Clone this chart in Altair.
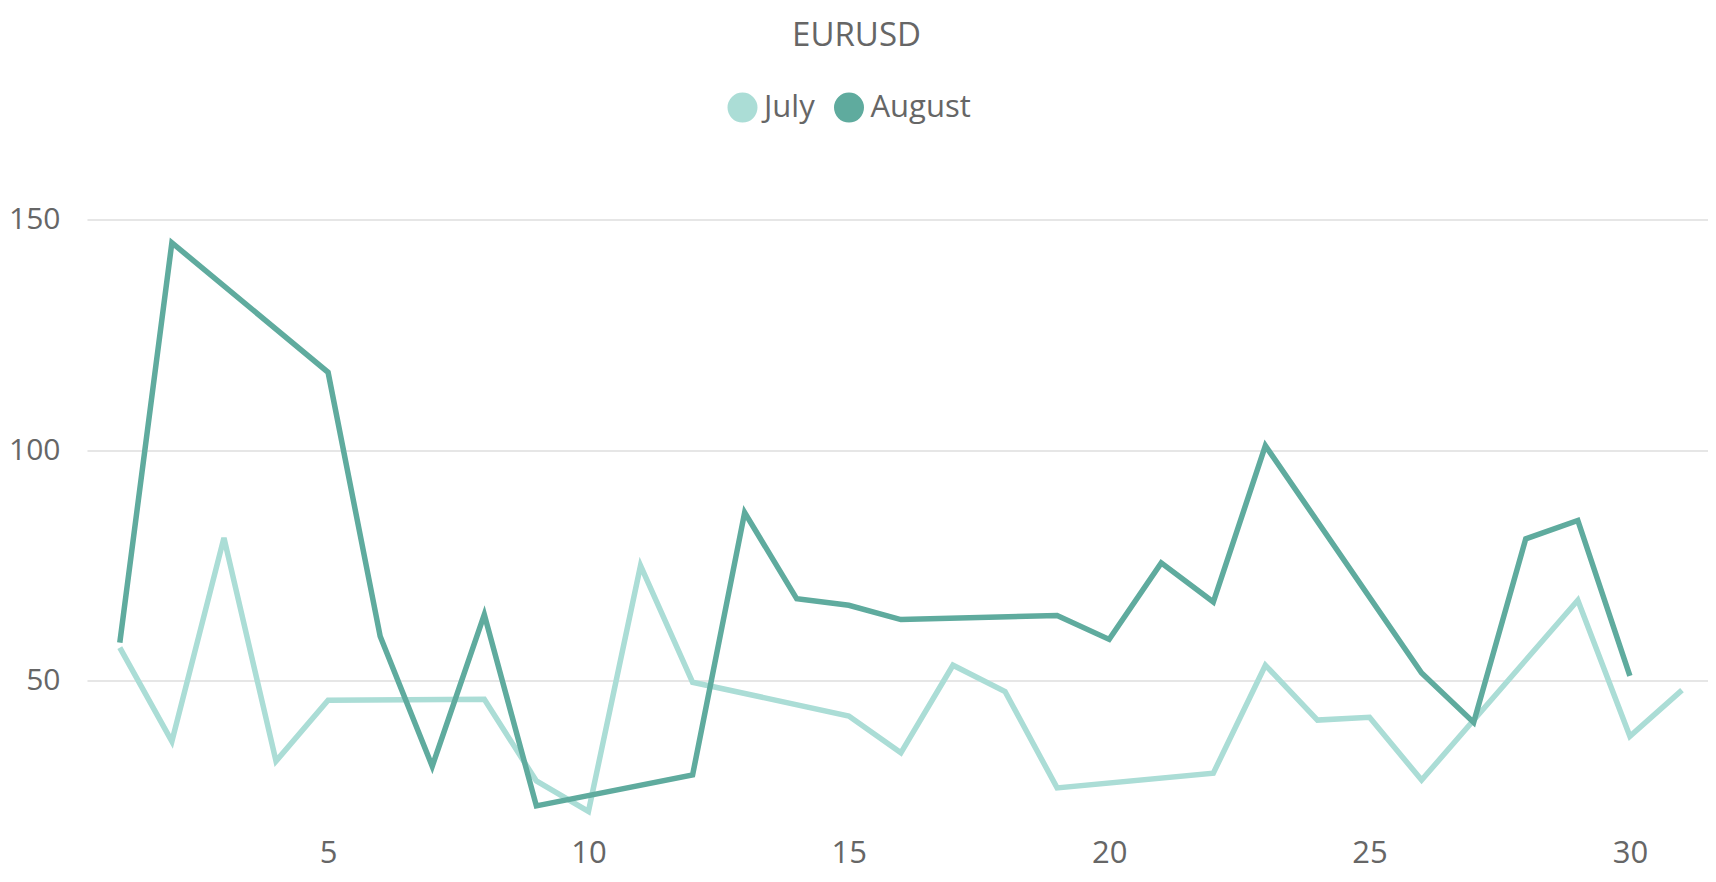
import altair as alt
import pandas as pd

# ---- data ----
july_days = [1, 2, 3, 4, 5, 8, 9, 10, 11, 12, 15, 16, 17, 18, 19, 22, 23, 24, 25, 26, 29, 30, 31]
july_vals = [57.2, 36.9, 81.0, 32.6, 45.8, 46.0, 28.3, 21.7, 75.0, 49.7, 42.4, 34.4, 53.4, 47.7,
             26.8, 30.0, 53.4, 41.5, 42.1, 28.5, 67.5, 38.0, 48.0]
aug_days = [1, 2, 5, 6, 7, 8, 9, 12, 13, 14, 15, 16, 19, 20, 21, 22, 23, 26, 27, 28, 29, 30]
aug_vals = [58.3, 145.0, 116.9, 59.7, 31.5, 64.4, 22.9, 29.6, 86.5, 67.8, 66.4, 63.3, 64.2,
            59.0, 75.6, 67.1, 101.0, 51.7, 41.0, 80.8, 84.8, 51.1]
series = ["July", "August"]
colors = ["#ABDDD6", "#5FAB9E"]
x_ticks = [5, 10, 15, 20, 25, 30]
y_ticks = [50, 100, 150]

rows = [{"day": d, "value": v, "month": "July", "ord": 0} for d, v in zip(july_days, july_vals)]
rows += [{"day": d, "value": v, "month": "August", "ord": 1} for d, v in zip(aug_days, aug_vals)]
df = pd.DataFrame(rows)

FONT = "Open Sans"
TXT = "#666666"
# filled-disc legend symbol drawn with a thick stroke (circle + short bar through the centre)
DISC = "M 1 0 A 1 1 0 1 1 -1 0 A 1 1 0 1 1 1 0 Z M -0.45 0 L 0.45 0"

chart = alt.Chart(df).mark_line(strokeWidth=5.5).encode(
    x=alt.X("day:Q", scale=alt.Scale(domain=[0.37, 31.5], nice=False, zero=False),
            axis=alt.Axis(values=x_ticks, title=None, grid=False, domain=False, ticks=False,
                          labelPadding=10, labelFontSize=31, labelFont=FONT, labelColor=TXT)),
    y=alt.Y("value:Q", scale=alt.Scale(domain=[18, 165], nice=False, zero=False),
            axis=alt.Axis(values=y_ticks, title=None, grid=True, gridColor="#E6E6E6", gridWidth=2,
                          domain=False, ticks=False, labelPadding=27, labelFontSize=30,
                          labelFont=FONT, labelColor=TXT)),
    color=alt.Color("month:N", scale=alt.Scale(domain=series, range=colors),
                    legend=alt.Legend(orient="none", legendX=640, legendY=-58.7, direction="horizontal",
                                      title=None, symbolType=DISC, symbolSize=196,
                                      symbolStrokeWidth=16, labelFontSize=31, labelFont=FONT,
                                      labelColor=TXT, labelOffset=6, columnPadding=-5.5, padding=0)),
    order=alt.Order("ord:Q"),
).properties(
    width=1621,
    height=678,
    title=alt.TitleParams("EURUSD", anchor="middle", frame="group", fontSize=33, font=FONT,
                          fontWeight="normal", color=TXT, dx=-41, dy=-34.5),
    autosize=alt.AutoSizeParams(type="none"),
    padding={"left": 79, "top": 142.5, "right": 0, "bottom": 50},
).configure_view(stroke=None)

chart.save("out.html", embed_options={"renderer": "svg", "actions": False})
